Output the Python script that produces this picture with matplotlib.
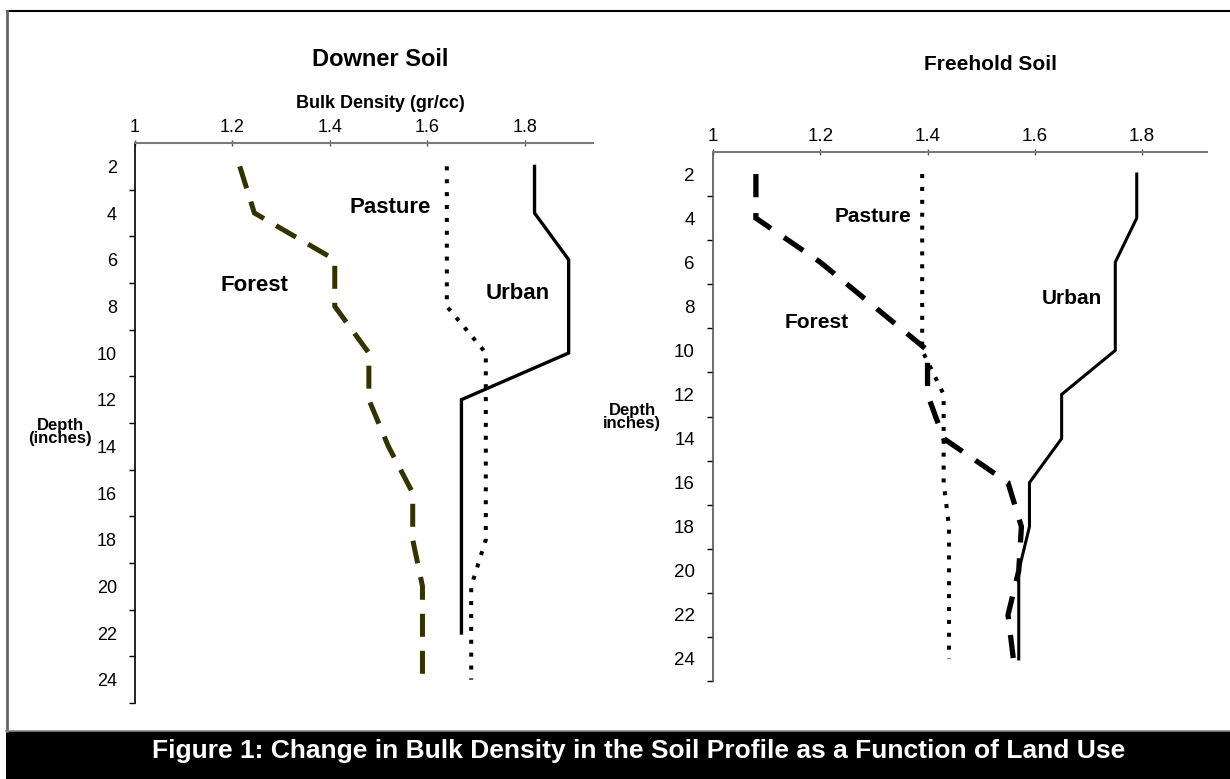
import numpy as np
import matplotlib
matplotlib.use("Agg")
import matplotlib.pyplot as plt
from matplotlib.lines import Line2D
from matplotlib.patches import Rectangle
from matplotlib.transforms import Bbox, TransformedBbox

plt.rcParams['font.family'] = ['Liberation Sans', 'DejaVu Sans']

# ---------------- data ----------------
depths = [2, 4, 6, 8, 10, 12, 14, 16, 18, 20, 22, 24]
depth_ticks = [2, 4, 6, 8, 10, 12, 14, 16, 18, 20, 22, 24]
density_ticks = [1, 1.2, 1.4, 1.6, 1.8]
density_tick_labels = ["1", "1.2", "1.4", "1.6", "1.8"]

downer_forest = [1.215, 1.245, 1.41, 1.41, 1.48, 1.48, 1.52, 1.57, 1.57, 1.59, 1.59, 1.59]
downer_pasture = [1.64, 1.64, 1.64, 1.64, 1.72, 1.72, 1.72, 1.72, 1.72, 1.69, 1.69, 1.69]
downer_urban = [1.82, 1.82, 1.89, 1.89, 1.89, 1.67, 1.67, 1.67, 1.67, 1.67, 1.67, np.nan]

freehold_forest = [1.08, 1.08, 1.20, 1.30, 1.40, 1.40, 1.43, 1.55, 1.575, 1.57, 1.55, 1.56]
freehold_pasture = [1.39, 1.39, 1.39, 1.39, 1.39, 1.43, 1.43, 1.43, 1.44, 1.44, 1.44, 1.44]
freehold_urban = [1.79, 1.79, 1.75, 1.75, 1.75, 1.65, 1.65, 1.59, 1.59, 1.57, 1.57, 1.57]

titles = ["Downer Soil", "Freehold Soil"]
x_label = "Bulk Density (gr/cc)"
depth_labels = ["Depth\n(inches)", "Depth\ninches)"]
caption = "Figure 1: Change in Bulk Density in the Soil Profile as a Function of Land Use"

W, H = 1230, 779
fig = plt.figure(figsize=(W / 100, H / 100), dpi=100)
fig.patch.set_facecolor("white")


def fx(px):
    return px / W


def fy(py):
    return 1 - py / H


def style_axes(ax, xmax, tick_fs, xspine_col, yspine_col):
    ax.set_xlim(1, xmax)
    ax.set_ylim(25, 1)
    ax.xaxis.tick_top()
    ax.set_xticks(density_ticks)
    ax.set_xticklabels(density_tick_labels, fontsize=tick_fs)
    ax.tick_params(axis='x', direction='inout', length=4.5, width=1, color='#555555', pad=3)
    ax.set_yticks(depth_ticks)
    ax.set_yticklabels([str(d) for d in depth_ticks], fontsize=tick_fs)
    ax.tick_params(axis='y', which='major', length=0, pad=13)
    ax.set_yticks(list(range(3, 26, 2)), minor=True)
    ax.tick_params(axis='y', which='minor', direction='out', length=4, width=1, color='black')
    for s in ['right', 'bottom']:
        ax.spines[s].set_visible(False)
    ax.spines['top'].set_color(xspine_col)
    ax.spines['top'].set_linewidth(1.5)
    ax.spines['left'].set_color(yspine_col)
    ax.spines['left'].set_linewidth(1.2)
    ax.patch.set_alpha(0)


# -------- Left: Downer --------
axL = fig.add_axes([fx(135), fy(703), fx(593 - 135), (703 - 143) / H])
style_axes(axL, 1.94, 13, '#7a7a7a', '#000000')
axL.plot(downer_forest, depths, color='#333300', lw=3.6,
         linestyle=(0, (4.6, 2.8)), dash_capstyle='butt', dash_joinstyle='miter')
axL.plot(downer_pasture, depths, color='black', lw=2.9,
         linestyle=(0, (1.0, 2.2)), dash_capstyle='butt')
axL.plot(downer_urban, depths, color='black', lw=2.4, solid_joinstyle='miter')
axL.text(1.523, 3.75, "Pasture", fontsize=16, fontweight='bold', ha='center', va='center')
axL.text(1.246, 7.1, "Forest", fontsize=16, fontweight='bold', ha='center', va='center')
axL.text(1.786, 7.44, "Urban", fontsize=16, fontweight='bold', ha='center', va='center')

# -------- Right: Freehold --------
axR = fig.add_axes([fx(713), fy(681), fx(1207 - 713), (681 - 152) / H])
style_axes(axR, 1.921, 13.5, '#7a7a7a', '#555555')
axR.plot(freehold_forest, depths, color='black', lw=3.8,
         linestyle=(0, (4.4, 3.0)), dash_capstyle='butt', dash_joinstyle='miter')
axR.plot(freehold_pasture, depths, color='black', lw=2.9,
         linestyle=(0, (1.0, 2.2)), dash_capstyle='butt')
axR.plot(freehold_urban, depths, color='black', lw=2.2, solid_joinstyle='miter')
axR.text(1.299, 3.93, "Pasture", fontsize=15, fontweight='bold', ha='center', va='center')
axR.text(1.193, 8.74, "Forest", fontsize=15, fontweight='bold', ha='center', va='center')
axR.text(1.67, 7.64, "Urban", fontsize=15, fontweight='bold', ha='center', va='center')

# -------- titles & labels --------
fig.text(fx(380), fy(60), titles[0], fontsize=17, fontweight='bold', ha='center', va='center')
fig.text(fx(990), fy(65), titles[1], fontsize=15, fontweight='bold', ha='center', va='center')
fig.text(fx(380), fy(103), x_label, fontsize=13, fontweight='bold', ha='center', va='center')
t = fig.text(fx(978), fy(112), x_label, fontsize=14, fontweight='bold', ha='center', va='center')
t.set_clip_box(TransformedBbox(Bbox([[0, 0], [1, fy(120)]]), fig.transFigure))
t.set_clip_on(True)
fig.text(fx(60), fy(432), depth_labels[0], fontsize=12, fontweight='bold', ha='center',
         va='center', linespacing=0.85, multialignment='center')
fig.text(fx(632), fy(417), depth_labels[1], fontsize=12, fontweight='bold', ha='center',
         va='center', linespacing=0.85, multialignment='center')

# -------- frame and caption banner --------
fig.add_artist(Line2D([fx(7), 1], [fy(10.5), fy(10.5)], color='black', lw=1.5,
                      transform=fig.transFigure))
fig.add_artist(Line2D([fx(7), fx(7)], [fy(10.5), fy(731)], color='#666666', lw=2,
                      transform=fig.transFigure))
fig.add_artist(Rectangle((fx(6), 0), 1 - fx(6), fy(731), facecolor='black',
                         edgecolor='none', transform=fig.transFigure))
fig.add_artist(Line2D([fx(6), 1], [fy(731), fy(731)], color='#888888', lw=1.2,
                      transform=fig.transFigure))
fig.text(fx(639), fy(751), caption, fontsize=19, fontweight='bold', color='white',
         ha='center', va='center')

fig.savefig("out.png", dpi=100, facecolor='white')
